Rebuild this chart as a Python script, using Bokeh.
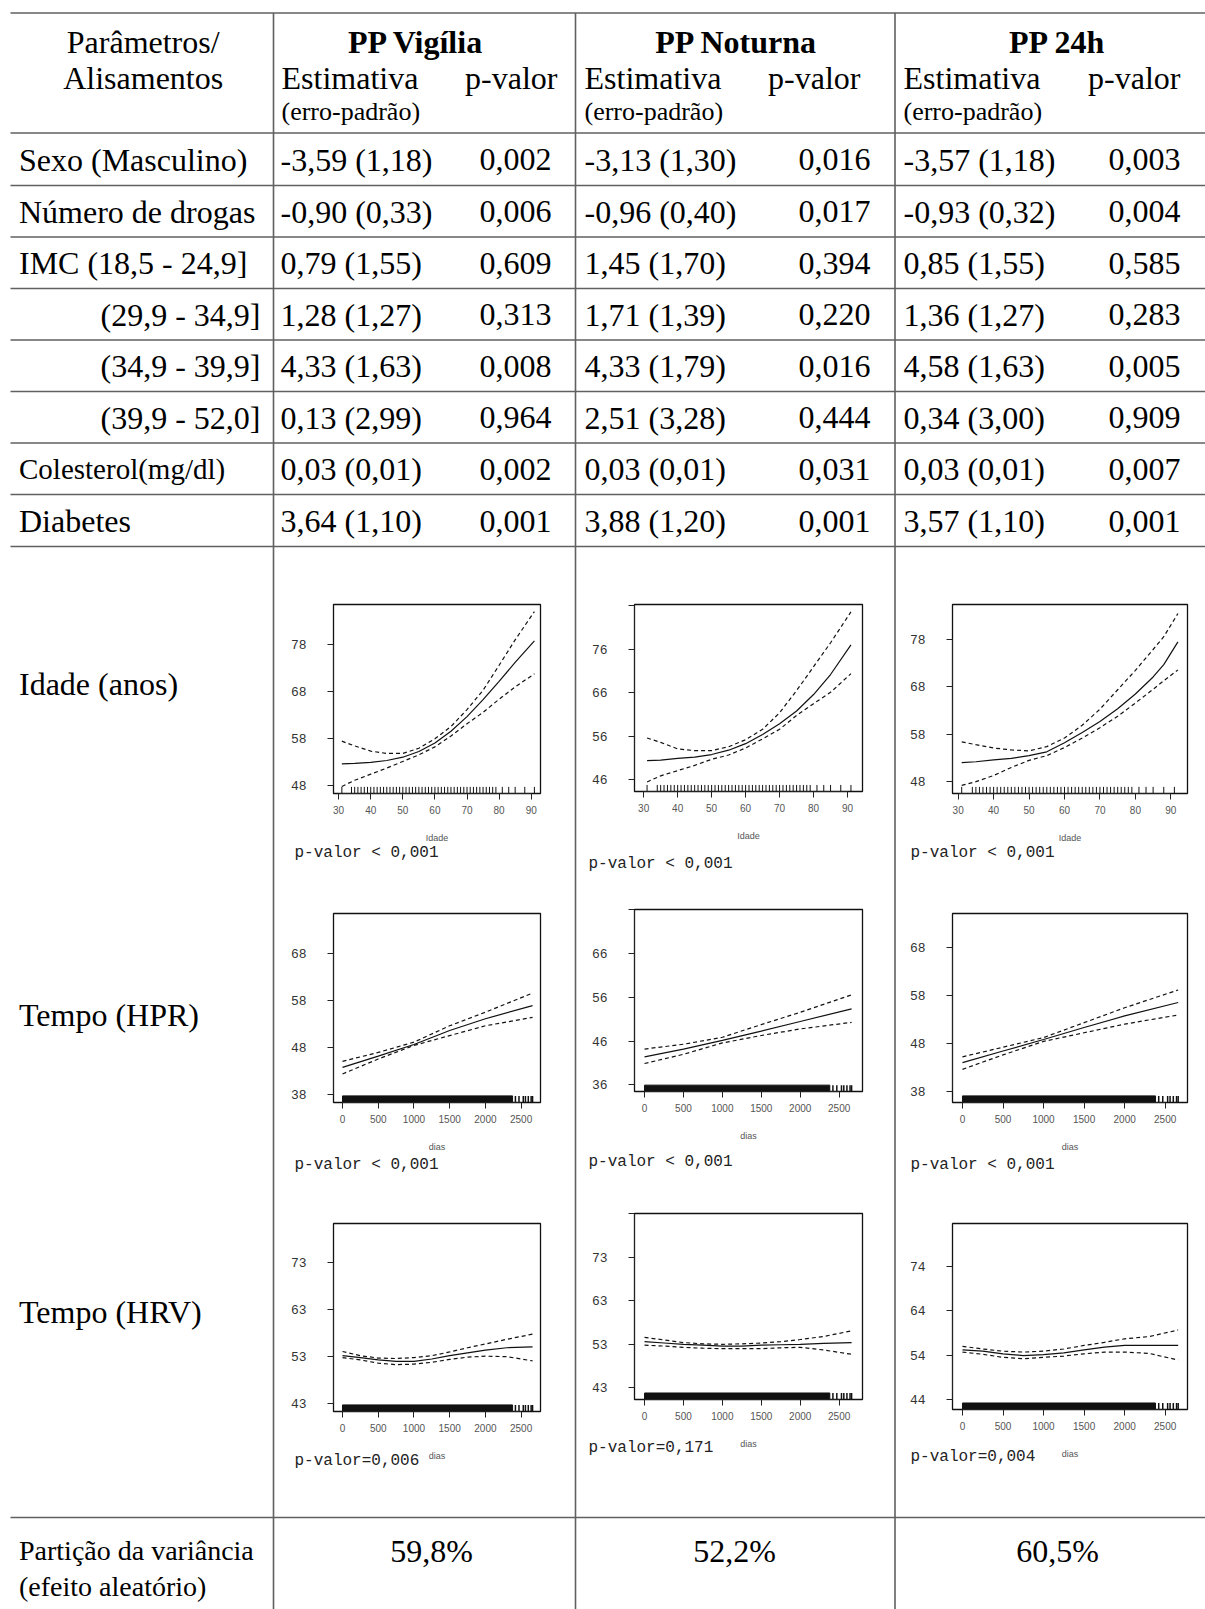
from bokeh.plotting import figure
from bokeh.models import GridBox, Range1d, FixedTicker, Column
from bokeh.embed import file_html
from bokeh.resources import INLINE
from bokeh.core.properties import value

W, H = 1205, 1609
SERIF = "Liberation Serif"
MONO = "Liberation Mono"
SANS = "Liberation Sans"

# ---------------- table data ----------------
row_labels = ["Sexo (Masculino)", "Número de drogas", "IMC (18,5 - 24,9]",
              "(29,9 - 34,9]", "(34,9 - 39,9]", "(39,9 - 52,0]",
              "Colesterol(mg/dl)", "Diabetes"]
groups = ["PP Vigília", "PP Noturna", "PP 24h"]
est_vig = ["-3,59 (1,18)", "-0,90 (0,33)", "0,79 (1,55)", "1,28 (1,27)",
           "4,33 (1,63)", "0,13 (2,99)", "0,03 (0,01)", "3,64 (1,10)"]
p_vig = ["0,002", "0,006", "0,609", "0,313", "0,008", "0,964", "0,002", "0,001"]
est_not = ["-3,13 (1,30)", "-0,96 (0,40)", "1,45 (1,70)", "1,71 (1,39)",
           "4,33 (1,79)", "2,51 (3,28)", "0,03 (0,01)", "3,88 (1,20)"]
p_not = ["0,016", "0,017", "0,394", "0,220", "0,016", "0,444", "0,031", "0,001"]
est_24h = ["-3,57 (1,18)", "-0,93 (0,32)", "0,85 (1,55)", "1,36 (1,27)",
           "4,58 (1,63)", "0,34 (3,00)", "0,03 (0,01)", "3,57 (1,10)"]
p_24h = ["0,003", "0,004", "0,585", "0,283", "0,005", "0,909", "0,007", "0,001"]
smooth_labels = ["Idade (anos)", "Tempo (HPR)", "Tempo (HRV)"]
smooth_pvals = [["p-valor < 0,001", "p-valor < 0,001", "p-valor < 0,001"],
                ["p-valor < 0,001", "p-valor < 0,001", "p-valor < 0,001"],
                ["p-valor=0,006", "p-valor=0,171", "p-valor=0,004"]]
variance = ["59,8%", "52,2%", "60,5%"]

# ---------------- smooth curves ----------------
idade_rug = [31, 34, 35, 36, 37, 38, 39, 40, 41, 42, 43, 44, 45, 46, 47, 48, 49, 50,
             51, 52, 53, 54, 55, 56, 57, 58, 59, 60, 61, 62, 63, 64, 65, 66, 67, 68,
             69, 70, 71, 72, 73, 74, 75, 76, 77, 78, 79, 81, 83, 85, 88, 91]
dias_rug_band = [0, 2380]
dias_rug = [2420, 2470, 2530, 2560, 2600, 2640, 2660]

idade_x_vig = [31, 35, 40, 45, 50, 55, 60, 65, 70, 75, 80, 85, 91]
idade_fit_vig = [52.7, 52.8, 53.0, 53.4, 54.1, 55.3, 57.1, 59.6, 62.7, 66.3, 70.2, 74.2, 78.8]
idade_upr_vig = [57.5, 56.5, 55.4, 54.9, 54.9, 56.0, 58.0, 60.6, 64.2, 68.3, 73.6, 79.0, 85.0]
idade_lwr_vig = [47.9, 49.2, 50.5, 51.8, 53.2, 54.6, 56.3, 58.6, 61.2, 63.6, 66.4, 69.0, 71.8]

idade_x_not = [31, 35, 40, 45, 50, 55, 60, 65, 70, 75, 80, 85, 91]
idade_fit_not = [50.4, 50.5, 50.9, 51.2, 51.8, 52.8, 54.3, 56.4, 58.9, 61.8, 65.6, 70.2, 77.0]
idade_upr_not = [55.6, 54.6, 53.1, 52.7, 52.7, 53.6, 55.2, 57.6, 61.4, 66.5, 72.0, 77.5, 84.6]
idade_lwr_not = [45.5, 46.9, 48.1, 49.3, 50.7, 51.7, 53.3, 55.4, 57.6, 60.8, 63.5, 66.1, 70.4]

idade_x_24h = [31, 35, 40, 45, 50, 55, 60, 65, 70, 75, 80, 85, 88, 92]
idade_fit_24h = [52.0, 52.2, 52.6, 52.9, 53.5, 54.3, 56.2, 58.4, 60.7, 63.4, 66.5, 70.1, 72.7, 77.5]
idade_upr_24h = [56.4, 55.8, 55.1, 54.7, 54.5, 55.4, 57.2, 59.9, 63.3, 67.4, 71.5, 75.9, 78.6, 83.5]
idade_lwr_24h = [47.2, 48.0, 49.3, 51.0, 52.5, 53.5, 55.2, 57.2, 59.4, 61.8, 64.6, 67.5, 69.3, 71.6]

hpr_x = [0, 500, 1000, 1500, 2000, 2660]
hpr_fit_vig = [43.7, 46.1, 48.6, 51.6, 54.1, 56.9]
hpr_upr_vig = [45.0, 46.9, 49.1, 52.6, 55.5, 59.6]
hpr_lwr_vig = [42.3, 45.5, 48.4, 50.5, 52.6, 54.4]
hpr_fit_not = [42.4, 44.2, 46.2, 48.3, 50.5, 53.4]
hpr_upr_not = [44.2, 45.3, 46.9, 49.8, 52.6, 56.6]
hpr_lwr_not = [40.9, 43.0, 45.6, 47.3, 48.8, 50.3]
hpr_fit_24h = [44.1, 46.5, 48.9, 51.4, 53.8, 56.6]
hpr_upr_24h = [45.3, 47.3, 49.3, 52.4, 55.5, 59.2]
hpr_lwr_24h = [42.7, 45.7, 48.5, 50.3, 52.1, 54.0]

hrv_x = [0, 250, 500, 750, 1000, 1250, 1500, 1750, 2000, 2300, 2660]
hrv_fit_vig = [53.1, 52.7, 52.2, 51.9, 51.9, 52.4, 53.1, 53.7, 54.3, 54.8, 55.0]
hrv_upr_vig = [54.0, 53.1, 52.6, 52.5, 52.7, 53.1, 53.9, 54.8, 55.6, 56.6, 57.7]
hrv_lwr_vig = [52.7, 52.2, 51.5, 51.2, 51.3, 51.7, 52.3, 52.8, 53.0, 52.9, 52.0]
hrv_fit_not = [53.6, 53.3, 53.0, 52.8, 52.6, 52.6, 52.8, 52.9, 53.0, 53.2, 53.4]
hrv_upr_not = [54.6, 54.0, 53.4, 53.1, 53.0, 53.1, 53.3, 53.6, 54.1, 54.8, 56.1]
hrv_lwr_not = [52.8, 52.6, 52.3, 52.1, 52.0, 52.0, 52.0, 52.2, 52.3, 51.7, 50.7]
hrv_fit_24h = [55.2, 54.9, 54.3, 53.9, 54.1, 54.5, 55.2, 55.8, 56.2, 56.2, 56.2]
hrv_upr_24h = [56.0, 55.4, 54.9, 54.7, 54.9, 55.4, 56.2, 56.9, 57.7, 58.2, 59.7]
hrv_lwr_24h = [54.7, 54.2, 53.5, 53.2, 53.5, 53.8, 54.3, 54.7, 54.7, 54.4, 52.9]

idade_xticks = [30, 40, 50, 60, 70, 80, 90]
dias_xticks = [0, 500, 1000, 1500, 2000, 2500]

# ---------------- table figure ----------------
t = figure(width=W, height=H, x_range=Range1d(0, W), y_range=Range1d(H, 0),
           x_axis_location=None, y_axis_location=None, min_border=0,
           min_border_left=0, min_border_right=0, min_border_top=0, min_border_bottom=0,
           outline_line_color=None, toolbar_location=None, output_backend="svg")
t.grid.visible = False

LINE = "#606060"
h_lines = [12.5, 132.5, 185, 236.5, 288, 339.5, 391, 442.5, 494, 546, 1517]
t.segment(x0=[10] * len(h_lines), x1=[W] * len(h_lines), y0=h_lines, y1=h_lines,
          line_color=LINE, line_width=1.6)
v_lines = [273, 575, 894.5]
t.segment(x0=v_lines, x1=v_lines, y0=[12.5] * 3, y1=[H] * 3, line_color=LINE, line_width=1.6)


def txt(xs, ys, texts, size, align="left", font=SERIF, style="normal", color="black"):
    t.text(x=xs, y=ys, text=texts, text_font=value(font), text_font_size=value(size),
           text_align=align, text_baseline="middle", text_font_style=style, text_color=color)


txt([142.7, 142.7], [41, 77], ["Parâmetros/", "Alisamentos"], "32px", align="center")
txt([415.7, 736, 1057], [41, 41, 41], groups, "32px", align="center", style="bold")
col_left = [281, 584, 903]
col_right = [557, 860, 1180]
txt(col_left, [77] * 3, ["Estimativa"] * 3, "32px")
txt(col_right, [77] * 3, ["p-valor"] * 3, "32px", align="right")
txt(col_left, [111] * 3, ["(erro-padrão)"] * 3, "26px")

row_y = [159, 211, 262.5, 314, 365.5, 417, 468.5, 520.5]
for i, lab in enumerate(row_labels):
    if lab.startswith("("):
        txt([260], [row_y[i]], [lab], "32px", align="right")
    elif lab.startswith("Colesterol"):
        txt([18.5], [row_y[i]], [lab], "29px")
    else:
        txt([18.5], [row_y[i]], [lab], "32px")
est_left = [280, 584, 903]
p_right = [551, 870, 1180]
for j, (ests, ps) in enumerate([(est_vig, p_vig), (est_not, p_not), (est_24h, p_24h)]):
    txt([est_left[j]] * len(ests), row_y, ests, "32px")
    txt([p_right[j]] * len(ps), row_y, ps, "32px", align="right")

txt([18.5] * 3, [683, 1014, 1311], smooth_labels, "32px")
pv_x = [[294, 588, 910], [294, 588, 910], [294, 588, 910]]
pv_y = [[852, 863, 852], [1164, 1161, 1164], [1460, 1447, 1456]]
for r in range(3):
    txt(pv_x[r], pv_y[r], smooth_pvals[r], "16px", font=MONO, color="#222")

txt([18.5, 18.5], [1550, 1586], ["Partição da variância", "(efeito aleatório)"], "28px")
txt([431, 734, 1057], [1550] * 3, variance, "32px", align="center")

# ---------------- small smooth plots ----------------
ML, MR, MT, MB = 60, 8, 8, 64


def small(frame, xr, yr, yticks, xticks, xlabel, x, fit, upr, lwr, rug_kind, blank_top=False):
    left, top, fw, fh = frame
    p = figure(width=fw + ML + MR, height=fh + MT + MB,
               x_range=Range1d(*xr), y_range=Range1d(*yr),
               min_border_left=ML, min_border_right=MR, min_border_top=MT, min_border_bottom=MB,
               border_fill_color=None, background_fill_color="white",
               outline_line_color="#111", outline_line_width=1.3,
               toolbar_location=None, output_backend="svg")
    p.margin = (top - MT, 0, 0, left - ML)
    p.grid.visible = False
    for ax in (p.xaxis[0], p.yaxis[0]):
        ax.minor_tick_line_color = None
        ax.major_tick_in = 0
        ax.major_tick_out = 6
        ax.major_tick_line_color = "#222"
        ax.axis_line_color = "#222"
    p.yaxis.ticker = FixedTicker(ticks=yticks)
    p.yaxis.bounds = (yticks[0], yticks[-1])
    if blank_top:
        p.yaxis.major_label_overrides = {yticks[-1]: ""}
    p.yaxis.major_label_text_font = MONO
    p.yaxis.major_label_text_font_size = "13px"
    p.yaxis.major_label_text_color = "#333"
    p.yaxis.major_label_standoff = 21
    p.xaxis.ticker = FixedTicker(ticks=xticks)
    p.xaxis.bounds = (xticks[0], xticks[-1])
    p.xaxis.major_label_text_font = SANS
    p.xaxis.major_label_text_font_size = "10px"
    p.xaxis.major_label_text_color = "#555"
    p.xaxis.major_label_standoff = 6
    p.xaxis.axis_label = xlabel
    p.xaxis.axis_label_text_font = SANS
    p.xaxis.axis_label_text_font_size = "9px"
    p.xaxis.axis_label_text_font_style = "normal"
    p.xaxis.axis_label_text_color = "#555"
    p.xaxis.axis_label_standoff = 16

    yb = yr[0]
    rug_len = 0.035 * (yr[1] - yr[0])
    if rug_kind == "idade":
        p.segment(x0=idade_rug, x1=idade_rug, y0=[yb] * len(idade_rug),
                  y1=[yb + rug_len] * len(idade_rug), line_color="#111", line_width=1)
    else:
        p.quad(left=[dias_rug_band[0]], right=[dias_rug_band[1]], bottom=[yb], top=[yb + rug_len],
               fill_color="#111", line_color="#111")
        p.segment(x0=dias_rug, x1=dias_rug, y0=[yb] * len(dias_rug),
                  y1=[yb + rug_len] * len(dias_rug), line_color="#111", line_width=1.5)
    p.line(x, fit, line_color="#111", line_width=1.2)
    p.line(x, upr, line_color="#111", line_width=1.2, line_dash="4 3")
    p.line(x, lwr, line_color="#111", line_width=1.2, line_dash="4 3")
    return p


plots = [
    small((333, 604, 207, 189), (28.4, 92.9), (46.4, 86.5), [48, 58, 68, 78], idade_xticks, "Idade",
          idade_x_vig, idade_fit_vig, idade_upr_vig, idade_lwr_vig, "idade"),
    small((634, 604, 228, 187), (27.3, 94.4), (43.3, 86.3), [46, 56, 66, 76, 86], idade_xticks, "Idade",
          idade_x_not, idade_fit_not, idade_upr_not, idade_lwr_not, "idade", blank_top=True),
    small((952, 604, 235, 189), (28.4, 94.7), (45.5, 85.4), [48, 58, 68, 78], idade_xticks, "Idade",
          idade_x_24h, idade_fit_24h, idade_upr_24h, idade_lwr_24h, "idade"),
    small((333, 913, 207, 189), (-126, 2771), (36.2, 76.6), [38, 48, 58, 68], dias_xticks, "dias",
          hpr_x, hpr_fit_vig, hpr_upr_vig, hpr_lwr_vig, "dias"),
    small((634, 909, 228, 182), (-129, 2800), (34.5, 76.1), [36, 46, 56, 66, 76], dias_xticks, "dias",
          hpr_x, hpr_fit_not, hpr_upr_not, hpr_lwr_not, "dias", blank_top=True),
    small((952, 913, 235, 189), (-123, 2775), (35.8, 75.1), [38, 48, 58, 68], dias_xticks, "dias",
          hpr_x, hpr_fit_24h, hpr_upr_24h, hpr_lwr_24h, "dias"),
    small((333, 1223, 207, 188), (-126, 2771), (41.2, 81.3), [43, 53, 63, 73], dias_xticks, "dias",
          hrv_x, hrv_fit_vig, hrv_upr_vig, hrv_lwr_vig, "dias"),
    small((634, 1213, 228, 186), (-129, 2800), (40.3, 83.1), [43, 53, 63, 73, 83], dias_xticks, "dias",
          hrv_x, hrv_fit_not, hrv_upr_not, hrv_lwr_not, "dias", blank_top=True),
    small((952, 1223, 235, 186), (-123, 2775), (41.7, 83.8), [44, 54, 64, 74], dias_xticks, "dias",
          hrv_x, hrv_fit_24h, hrv_upr_24h, hrv_lwr_24h, "dias"),
]

children = [(Column(children=[t]), 0, 0)] + [(Column(children=[p]), 0, 0) for p in plots]
grid = GridBox(children=children, spacing=0)

open("out.html", "w").write(file_html(grid, INLINE))
